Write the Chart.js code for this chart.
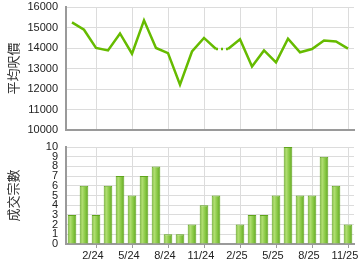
<!DOCTYPE html>
<html>
<head>
<meta charset="utf-8">
<script src="https://cdn.jsdelivr.net/npm/chart.js@4"></script>
<style>
    body { margin: 0; background: #fff; }
    #wrap { position: relative; width: 360px; height: 270px; }
    #top-box { position: absolute; left: 0; top: 0; }
    #bottom-box { position: absolute; left: 0; top: 136px; }
</style>
</head>
<body>
<div id="wrap">
    <div id="top-box"><canvas id="price-chart" width="360" height="140"></canvas></div>
    <div id="bottom-box"><canvas id="deal-chart" width="360" height="134"></canvas></div>
</div>
<script>
const months = ['12/23', '1/24', '2/24', '3/24', '4/24', '5/24', '6/24', '7/24', '8/24', '9/24', '10/24', '11/24',
    '12/24', '1/25', '2/25', '3/25', '4/25', '5/25', '6/25', '7/25', '8/25', '9/25', '10/25', '11/25'];
// average price per sq ft (1/25 has no deal, carried from 12/24)
const avgPrice = [15250, 14890, 14000, 13880, 14710, 13720, 15350, 14000, 13750, 12210, 13830, 14490,
    13950, 13950, 14430, 13100, 13880, 13300, 14450, 13790, 13950, 14370, 14320, 13970];
const dealCount = [3, 6, 3, 6, 7, 5, 7, 8, 1, 1, 2, 4, 5, 0, 2, 3, 3, 5, 10, 5, 5, 9, 6, 2];
const priceRange = [10000, 16000, 1000];
const dealRange = [0, 10, 1];
const priceTitle = '平均呎價';
const dealTitle = '成交宗數';

const gridColor = '#dcdcdc';
const axisColor = '#9a9a9a';
const tickFont = { family: 'Liberation Sans, Arial, sans-serif', size: 11 };
const titleFont = { family: 'Noto Sans CJK TC, sans-serif', size: 13 };

function isShown(index) {
    return index % 3 === 2;
}

function xScale(showLabels) {
    return {
        type: 'category',
        offset: true,
        border: { color: axisColor, width: 2 },
        grid: {
            offset: false,
            color: (ctx) => isShown(ctx.index) ? gridColor : 'transparent',
            tickColor: (ctx) => isShown(ctx.index) ? axisColor : 'transparent',
            tickLength: showLabels ? 4 : 0
        },
        ticks: {
            display: showLabels,
            autoSkip: false,
            maxRotation: 0,
            padding: 1,
            color: '#222',
            font: tickFont,
            // labels sit a little left of their tick in the original
            callback: function (value, index) {
                return isShown(index) ? months[index] + '  ' : '';
            }
        },
        afterFit: function (scale) {
            scale.height = showLabels ? 26 : 10;
            scale.paddingLeft = 0;
            scale.paddingRight = 0;
        }
    };
}

function yScale(range, title) {
    return {
        min: range[0],
        max: range[1],
        border: { color: axisColor, width: 2 },
        grid: { color: gridColor, drawTicks: false },
        ticks: {
            stepSize: range[2],
            autoSkip: false,
            padding: 8,
            color: '#222',
            font: tickFont,
            callback: (value) => String(value)
        },
        title: {
            display: true,
            text: title,
            color: '#333',
            font: titleFont,
            padding: { top: 5, bottom: 0 }
        },
        afterFit: function (scale) {
            scale.width = 66;
            scale.paddingTop = 0;
            scale.paddingBottom = 0;
        }
    };
}

new Chart(document.getElementById('price-chart'), {
    type: 'line',
    data: {
        labels: months,
        datasets: [{
            data: avgPrice,
            borderColor: '#66bb00',
            borderWidth: 2.5,
            pointRadius: 0,
            tension: 0,
            segment: {
                borderDash: (ctx) => dealCount[ctx.p1DataIndex] === 0 ? [2, 3] : undefined
            }
        }]
    },
    options: {
        responsive: false,
        animation: false,
        layout: { padding: { top: 7, right: 6, left: 0, bottom: 0 } },
        plugins: { legend: { display: false }, tooltip: { enabled: false } },
        scales: {
            x: xScale(false),
            y: yScale(priceRange, priceTitle)
        }
    }
});

function barGradient(ctx) {
    const chart = ctx.chart;
    if (!chart.chartArea || ctx.dataIndex === undefined) return '#8cc84a';
    const x = chart.scales.x.getPixelForValue(ctx.dataIndex);
    const g = chart.ctx.createLinearGradient(x - 4.5, 0, x + 4.5, 0);
    g.addColorStop(0, '#72b42c');
    g.addColorStop(0.3, '#b2de74');
    g.addColorStop(0.6, '#8ccb48');
    g.addColorStop(1, '#5ea41e');
    return g;
}

new Chart(document.getElementById('deal-chart'), {
    type: 'bar',
    data: {
        labels: months,
        datasets: [{
            data: dealCount,
            backgroundColor: barGradient,
            borderColor: '#5fa41c',
            borderWidth: 1,
            borderSkipped: 'bottom'
        }]
    },
    options: {
        responsive: false,
        animation: false,
        layout: { padding: { top: 11, right: 6, left: 0, bottom: 0 } },
        plugins: { legend: { display: false }, tooltip: { enabled: false } },
        scales: {
            x: xScale(true),
            y: yScale(dealRange, dealTitle)
        }
    }
});
</script>
</body>
</html>
